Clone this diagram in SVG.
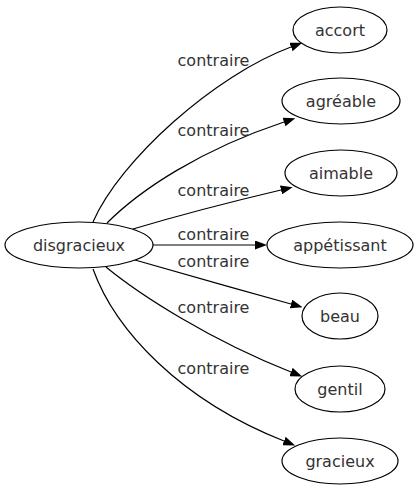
<svg xmlns="http://www.w3.org/2000/svg" width="419" height="491" viewBox="0 0 419 491">
<style>
.node ellipse{fill:#fff;stroke:#000;stroke-width:1.2}
text{font-family:"DejaVu Sans","Liberation Sans",sans-serif;font-size:16px;fill:#333;text-anchor:middle}
.edge{fill:none;stroke:#000;stroke-width:1.2;marker-end:url(#arr)}
</style>
<defs>
<marker id="arr" viewBox="0 0 12 9" refX="0" refY="4.5" markerWidth="12" markerHeight="9" markerUnits="userSpaceOnUse" orient="auto">
<path d="M0,0 L12,4.5 L0,9 z" fill="#000"/>
</marker>
</defs>
<rect width="419" height="491" fill="#fff"/>
<g id="connectors">
<path class="edge" d="M93,222 C120,160 215,75 291,47"/>
<path class="edge" d="M107,223 C140,190 200,150 284,122"/>
<path class="edge" d="M133,229 C170,218 230,202 281,190"/>
<path class="edge" d="M153,245 L255,245"/>
<path class="edge" d="M135,260 C180,273 240,290 291,304"/>
<path class="edge" d="M106,267 C140,295 210,340 291,372"/>
<path class="edge" d="M93,269 C115,330 180,400 284,441"/>
<text x="213.5" y="66">contraire</text>
<text x="213.5" y="136">contraire</text>
<text x="213.5" y="196">contraire</text>
<text x="213.5" y="240">contraire</text>
<text x="213.5" y="267">contraire</text>
<text x="213.5" y="313">contraire</text>
<text x="213.5" y="374">contraire</text>
</g>
<g id="disgracieux" class="node"><ellipse cx="79" cy="245" rx="74" ry="23"/><text x="79" y="250.5">disgracieux</text></g>
<g id="accort" class="node"><ellipse cx="340" cy="30" rx="47" ry="23"/><text x="340" y="35.5">accort</text></g>
<g id="agreable" class="node"><ellipse cx="341" cy="101" rx="59" ry="23"/><text x="341" y="106.5">agréable</text></g>
<g id="aimable" class="node"><ellipse cx="341" cy="173" rx="56" ry="23"/><text x="341" y="178.5">aimable</text></g>
<g id="appetissant" class="node"><ellipse cx="340" cy="245" rx="73" ry="23"/><text x="340" y="250.5">appétissant</text></g>
<g id="beau" class="node"><ellipse cx="340" cy="316" rx="38" ry="23"/><text x="340" y="321.5">beau</text></g>
<g id="gentil" class="node"><ellipse cx="340" cy="389" rx="45" ry="23"/><text x="340" y="394.5">gentil</text></g>
<g id="gracieux" class="node"><ellipse cx="340" cy="461" rx="58" ry="23"/><text x="340" y="466.5">gracieux</text></g>
</svg>
